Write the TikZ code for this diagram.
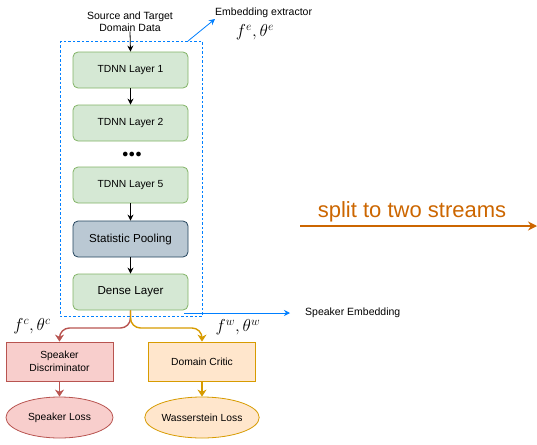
\documentclass[tikz,border=0pt]{standalone}
\usepackage{fontspec}
\setmainfont{Liberation Sans}
\usetikzlibrary{arrows.meta,shapes.geometric}
\definecolor{greenfill}{HTML}{D5E8D4}
\definecolor{greenline}{HTML}{82B366}
\definecolor{bluefill}{HTML}{BAC8D3}
\definecolor{blueline}{HTML}{23445D}
\definecolor{redfill}{HTML}{F8CECC}
\definecolor{redline}{HTML}{B85450}
\definecolor{orangefill}{HTML}{FFE6CC}
\definecolor{orangeline}{HTML}{D79B00}
\definecolor{linkblue}{HTML}{007FFF}
\definecolor{splitorange}{HTML}{CC6600}
\begin{document}
\begin{tikzpicture}[x=1pt,y=-1pt,
  layer/.style={draw=greenline,fill=greenfill,rounded corners=5pt,line width=0.8pt,
    minimum width=115pt,minimum height=36pt,inner sep=0pt,font=\fontsize{10.3}{12}\selectfont},
  poolbox/.style={layer,draw=blueline,fill=bluefill,font=\fontsize{11.6}{13}\selectfont},
  denselayer/.style={layer,font=\fontsize{11.6}{13}\selectfont},
  headbox/.style={draw=#1line,fill=#1fill,line width=0.8pt,minimum width=107pt,minimum height=39pt,
    inner sep=0pt,align=center,font=\fontsize{10.3}{13}\selectfont},
  lossbox/.style={ellipse,draw=#1line,fill=#1fill,line width=0.8pt,minimum width=107pt,minimum height=41pt,
    inner sep=0pt,font=\fontsize{10.3}{12}\selectfont},
  flow/.style={-{Stealth[length=6pt,width=6pt]},line width=0.8pt},
  branch/.style={-{Stealth[length=7pt,width=9pt]},line width=1.4pt,rounded corners=10pt},
  bluearrow/.style={-{Stealth[length=6pt,width=6pt]},draw=linkblue,line width=0.8pt},
  label/.style={font=\fontsize{10.5}{12}\selectfont,inner sep=0pt},
  mathlabel/.style={font=\fontsize{16.5}{18}\selectfont,inner sep=0pt}
]
\useasboundingbox (0,0) rectangle (537,444);

% embedding extractor frame
\draw[linkblue,line width=0.8pt,dash pattern=on 2.5pt off 2pt] (60,41) rectangle (202,316);

% input text
\node[label,align=center] (src) at (130,21.5) {Source and Target\\[-0.5pt]Domain Data};

% TDNN stack
\node[layer] (l1) at (130.5,70) {TDNN Layer 1};
\node[layer] (l2) at (130.5,123) {TDNN Layer 2};
\node[inner sep=0pt,font=\fontsize{12}{12}\selectfont] (dots) at (132,155) {$\bullet\!\bullet\!\bullet$};
\node[layer] (l5) at (130.5,185) {TDNN Layer 5};
\node[poolbox] (sp) at (130.5,239) {Statistic Pooling};
\node[denselayer] (dl) at (130.5,292) {Dense Layer};

\draw[flow] (src.south) -- (l1.north);
\draw[flow] (l1) -- (l2);
\draw[flow] (l5) -- (sp);
\draw[flow] (sp) -- (dl);

% heads
\node[headbox=red] (sd) at (59.5,361.5) {Speaker\\Discriminator};
\node[headbox=orange] (dc) at (202,361.5) {Domain Critic};
\node[lossbox=red] (sl) at (59.5,417.5) {Speaker Loss};
\node[lossbox=orange] (wl) at (202,417.5) {Wasserstein Loss};

\draw[branch,redline] (dl.south) -- (130.5,328) -- (59.5,328) -- (sd.north);
\draw[branch,orangeline] (dl.south) -- (130.5,328) -- (202,328) -- (dc.north);
\draw[branch,redline,rounded corners=0pt] (sd) -- (sl);
\draw[branch,orangeline,rounded corners=0pt] (dc) -- (wl);

% extractor outputs
\coordinate (extcorner) at (188,41);
\node[label,anchor=west] (exttext) at (215,13) {Embedding extractor};
\coordinate (exttip) at (215,19);
\draw[bluearrow] (extcorner) -- (exttip);
\node[mathlabel] (fe) at (255,32) {$f^e,\theta^e$};

\coordinate (embstart) at (184,313);
\coordinate (embtip) at (290,313);
\draw[bluearrow] (embstart) -- (embtip);
\node[label,anchor=west] (embtext) at (305,313) {Speaker Embedding};

\node[mathlabel] (fc) at (32,326) {$f^c,\theta^c$};
\node[mathlabel] (fw) at (238,327) {$f^w,\theta^w$};

% split annotation
\coordinate (splitstart) at (300,226);
\coordinate (splitend) at (537,226);
\draw[splitorange,line width=2pt,-{Stealth[length=9pt,width=9pt]}] (splitstart) -- (splitend);
\node[splitorange,font=\fontsize{22}{24}\selectfont,inner sep=0pt] (splittext) at (412,212) {split to two streams};
\end{tikzpicture}
\end{document}
